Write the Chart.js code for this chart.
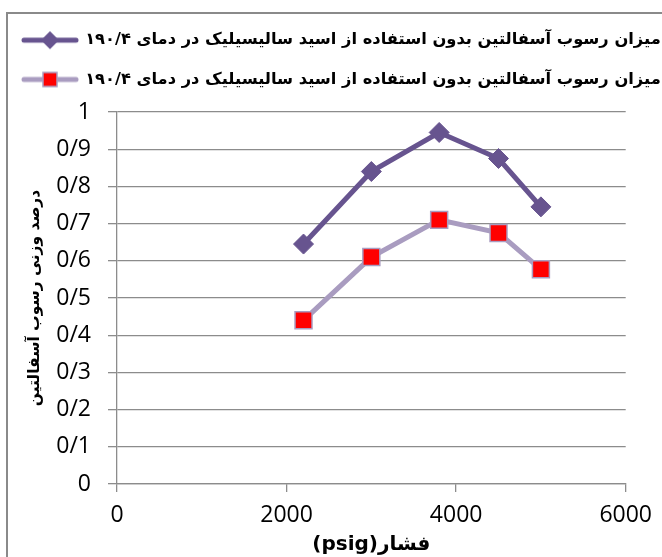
<!DOCTYPE html>
<html>
<head>
<meta charset="utf-8">
<script src="https://cdn.jsdelivr.net/npm/chart.js@4"></script>
<style>
  body { margin: 0; overflow: hidden; background: #fff; }
  #wrap { position: relative; width: 662px; height: 557px; }
  /* outer chart frame, runs off the right and bottom edges like the source */
  #frame { position: absolute; left: 6px; top: 12px; width: 700px; height: 600px; border: 2px solid #8a8a8a; }
  canvas { position: absolute; left: 0; top: 0; }
</style>
</head>
<body>
<div id="wrap">
  <div id="frame"></div>
  <canvas id="chart" width="662" height="557"></canvas>
</div>
<script>
// pressure (psig) and asphaltene weight fraction
const pressure = [2200, 3000, 3800, 4500, 5000];
const seriesA = [0.645, 0.84, 0.945, 0.875, 0.745];
const seriesB = [0.44, 0.61, 0.71, 0.675, 0.577];

const seriesLabels = [
  "میزان رسوب آسفالتین بدون استفاده از اسید سالیسیلیک در دمای ۱۹۰/۴",
  "میزان رسوب آسفالتین بدون استفاده از اسید سالیسیلیک در دمای ۱۹۰/۴"
];
const xTickLabels = ["0", "2000", "4000", "6000"];
const yTickLabels = ["0", "0/1", "0/2", "0/3", "0/4", "0/5", "0/6", "0/7", "0/8", "0/9", "1"];
// written so it shows as "(psig)" then the Persian word, as in the source
const xTitle = "(psig)فشار";
const yTitle = "درصد وزنی رسوب آسفالتین";

const darkPurple = "#67548f";
const lightPurple = "#a99cc0";
const red = "#ff0000";
const gridColor = "#8c8c8c";

// little line+marker swatch for the legend, like the office legend key
const makeIcon = (lineColor, marker, fill, stroke) => {
  const c = document.createElement("canvas");
  c.width = 58;
  c.height = 22;
  const g = c.getContext("2d");
  g.strokeStyle = lineColor;
  g.lineWidth = 5;
  g.lineCap = "round";
  g.beginPath();
  g.moveTo(3, 11);
  g.lineTo(55, 11);
  g.stroke();
  g.fillStyle = fill;
  g.strokeStyle = stroke;
  g.lineWidth = 1.5;
  if (marker === "diamond") {
    g.beginPath();
    g.moveTo(29, 2);
    g.lineTo(38, 11);
    g.lineTo(29, 20);
    g.lineTo(20, 11);
    g.closePath();
    g.fill();
  } else {
    g.fillRect(22, 4, 14, 14);
    g.strokeRect(22, 4, 14, 14);
  }
  return c;
};

const icons = [
  makeIcon(darkPurple, "diamond", darkPurple, darkPurple),
  makeIcon(lightPurple, "square", red, lightPurple)
];

// fixed legend height so the plot starts where the source does,
// and let the legend run to the canvas edge instead of being clipped
const legendBox = {
  id: "legendBox",
  beforeLayout(chart) {
    const lg = chart.legend;
    if (lg && !lg._fixed) {
      const fit = lg.fit.bind(lg);
      lg.fit = function () {
        fit();
        this.height = 103;
      };
      lg._fixed = true;
    }
  },
  afterLayout(chart) {
    const lg = chart.legend;
    if (lg) {
      lg.right = chart.width;
      lg.width = chart.width - lg.left;
    }
  }
};

new Chart(document.getElementById("chart"), {
  type: "line",
  data: {
    datasets: [
      {
        label: seriesLabels[0],
        data: pressure.map((p, i) => ({ x: p, y: seriesA[i] })),
        borderColor: darkPurple,
        backgroundColor: darkPurple,
        borderWidth: 5,
        pointStyle: "rectRot",
        pointRadius: 10,
        pointBackgroundColor: darkPurple,
        pointBorderColor: darkPurple,
        pointBorderWidth: 1
      },
      {
        label: seriesLabels[1],
        data: pressure.map((p, i) => ({ x: p, y: seriesB[i] })),
        borderColor: lightPurple,
        backgroundColor: red,
        borderWidth: 5,
        pointStyle: "rect",
        pointRadius: 12,
        pointBackgroundColor: red,
        pointBorderColor: lightPurple,
        pointBorderWidth: 1.5
      }
    ]
  },
  options: {
    responsive: false,
    animation: false,
    layout: { padding: { left: 0, right: 34, top: 9, bottom: 0 } },
    plugins: {
      tooltip: { enabled: false },
      legend: {
        position: "top",
        align: "start",
        labels: {
          usePointStyle: true,
          pointStyleWidth: 54,
          padding: 23,
          color: "#000",
          font: { family: "'DejaVu Sans'", size: 16.3, weight: "bold" },
          generateLabels: chart =>
            chart.data.datasets.map((ds, i) => ({
              text: ds.label,
              pointStyle: icons[i],
              datasetIndex: i,
              hidden: false,
              lineWidth: 0,
              fontColor: "#000"
            }))
        }
      }
    },
    scales: {
      x: {
        type: "linear",
        min: 0,
        max: 6000,
        afterFit: s => { s.height = 73; },
        ticks: {
          stepSize: 2000,
          padding: 10,
          color: "#000",
          font: { family: "'Open Sans'", size: 23 },
          callback: (v, i) => xTickLabels[i]
        },
        grid: { drawOnChartArea: false, color: gridColor, tickLength: 8, lineWidth: 1.3 },
        border: { color: gridColor, width: 1.3 },
        title: {
          display: true,
          text: xTitle,
          color: "#000",
          padding: 0,
          font: { family: "'DejaVu Sans'", size: 20, weight: "bold" }
        }
      },
      y: {
        min: 0,
        max: 1,
        afterFit: s => { s.width = 117; },
        ticks: {
          stepSize: 0.1,
          padding: 17,
          color: "#000",
          font: { family: "'Open Sans'", size: 23 },
          callback: (v, i) => yTickLabels[i]
        },
        grid: { color: gridColor, tickLength: 9, lineWidth: 1.3 },
        border: { color: gridColor, width: 1.3 },
        title: {
          display: true,
          text: yTitle,
          color: "#000",
          padding: { top: 26, bottom: 0 },
          font: { family: "'DejaVu Sans'", size: 15.5, weight: "bold" }
        }
      }
    }
  },
  plugins: [legendBox]
});
</script>
</body>
</html>
